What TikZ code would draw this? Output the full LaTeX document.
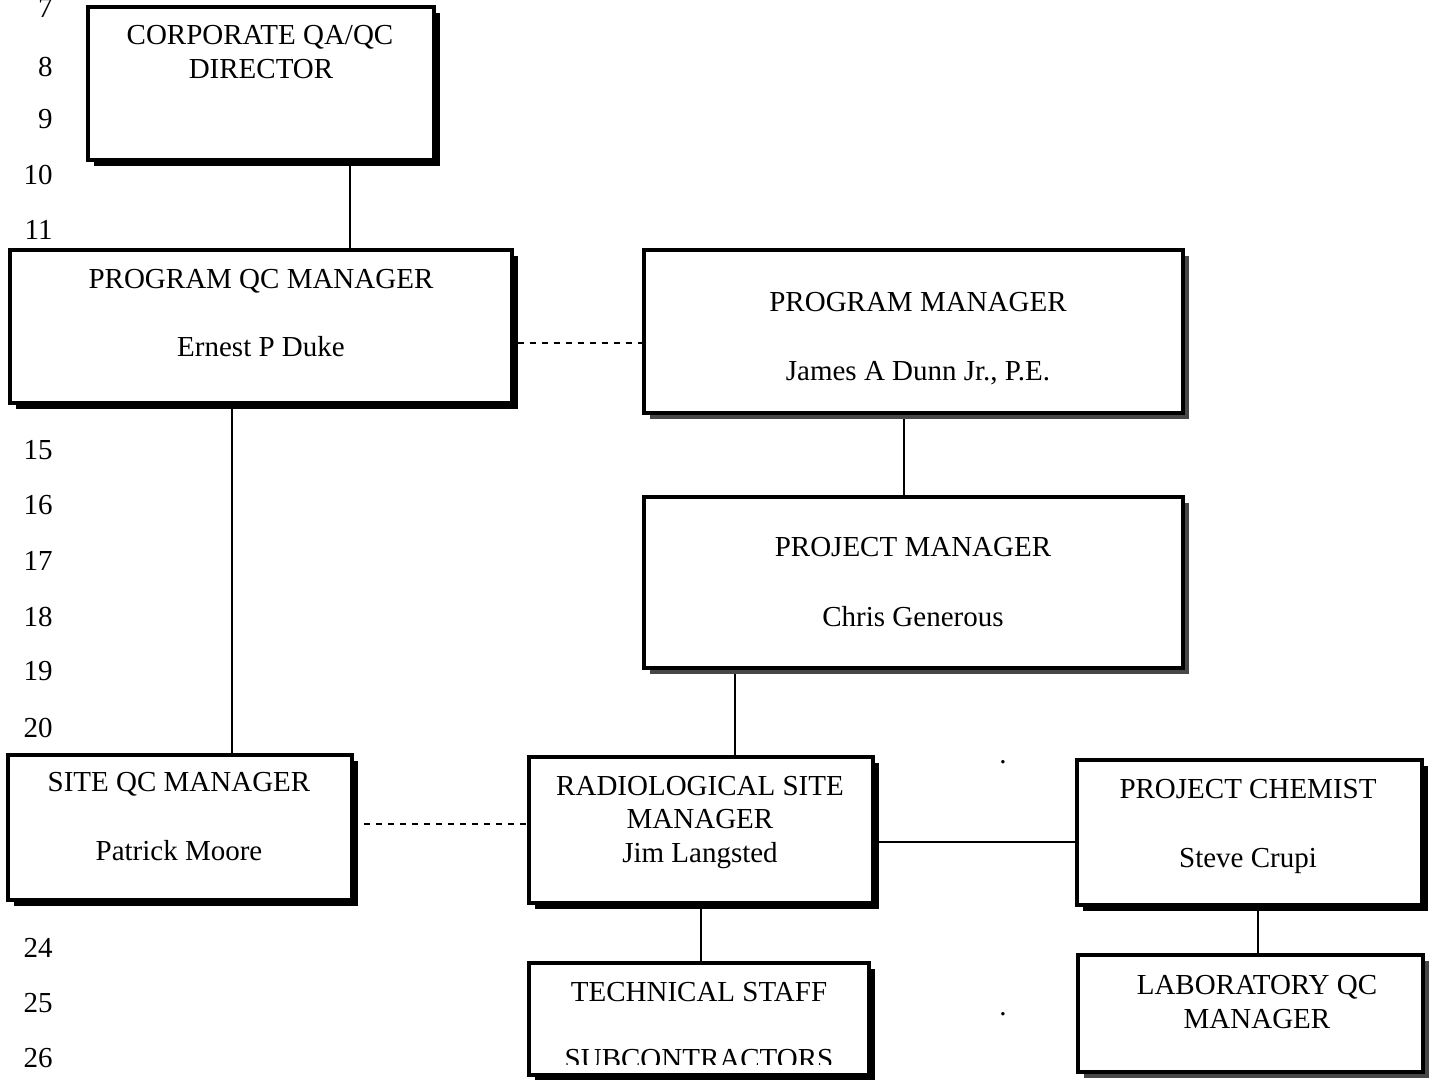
\documentclass[tikz,border=0pt]{standalone}
\usepackage{fontspec}
\setmainfont{Liberation Serif}
\usetikzlibrary{shadows,backgrounds}
\begin{document}
\begin{tikzpicture}[x=0.5pt,y=-0.5pt,
  font=\fontsize{14.5}{17}\selectfont,
  orgbox/.style={draw=black, fill=white, line width=1.75pt, rectangle, inner sep=0pt,
    general shadow={fill=black, shadow xshift=3.2pt, shadow yshift=-3.2pt}},
  greybox/.style={draw=black, fill=white, line width=1.75pt, rectangle, inner sep=0pt,
    general shadow={fill=black!72, shadow xshift=3.2pt, shadow yshift=-3.2pt}},
  txt/.style={anchor=base, inner sep=0pt},
  num/.style={anchor=base east, inner sep=0pt},
  link/.style={line width=0.8pt},
  dlink/.style={line width=0.8pt, dash pattern=on 3pt off 3pt}]
\useasboundingbox (0,0) rectangle (1436,1080);

% line numbers
\node[num] (n7)  at (53,18) {7};
\node[num] (n8)  at (53,77) {8};
\node[num] (n9)  at (53,129) {9};
\node[num] (n10) at (53,185) {10};
\node[num] (n11) at (53,240) {11};
\node[num] (n15) at (53,460) {15};
\node[num] (n16) at (53,515) {16};
\node[num] (n17) at (53,571) {17};
\node[num] (n18) at (53,626) {18};
\node[num] (n19) at (53,681) {19};
\node[num] (n20) at (53,737) {20};
\node[num] (n24) at (53,957) {24};
\node[num] (n25) at (53,1012) {25};
\node[num] (n26) at (53,1067) {26};

% boxes
\node[orgbox, minimum width=173pt, minimum height=76.5pt] (corp) at (261,83.5) {};
\node[orgbox, minimum width=251pt, minimum height=76.5pt] (pqc) at (261,326.5) {};
\node[greybox, minimum width=269.5pt, minimum height=81.5pt] (pm) at (913.5,331.5) {};
\node[greybox, minimum width=269.5pt, minimum height=85.5pt] (proj) at (913.5,582.5) {};
\node[orgbox, minimum width=172pt, minimum height=72.5pt] (site) at (180,827.5) {};
\node[orgbox, minimum width=172pt, minimum height=73pt] (rad) at (701,830) {};
\node[orgbox, minimum width=172.5pt, minimum height=72.5pt] (chem) at (1249.5,832.5) {};
\node[greybox, minimum width=172.5pt, minimum height=58.5pt] (lab) at (1250.5,1013.5) {};
\node[orgbox, minimum width=170pt, minimum height=56pt] (tech) at (699,1019) {};

% texts
\node[txt] (corpT1) at (260,45) {CORPORATE QA/QC};
\node[txt] (corpT2) at (261,79) {DIRECTOR};
\node[txt] (pqcT1) at (261,289) {PROGRAM QC MANAGER};
\node[txt] (pqcT2) at (261,357) {Ernest P Duke};
\node[txt] (pmT1) at (918,312) {PROGRAM MANAGER};
\node[txt] (pmT2) at (918,381) {James A Dunn Jr., P.E.};
\node[txt] (projT1) at (913,557) {PROJECT MANAGER};
\node[txt] (projT2) at (913,626) {Chris Generous};
\node[txt] (siteT1) at (179,791) {SITE QC MANAGER};
\node[txt] (siteT2) at (179,860) {Patrick Moore};
\node[txt] (radT1) at (700,795) {RADIOLOGICAL SITE};
\node[txt] (radT2) at (700,828) {MANAGER};
\node[txt] (radT3) at (700,862) {Jim Langsted};
\node[txt] (chemT1) at (1248,798) {PROJECT CHEMIST};
\node[txt] (chemT2) at (1248,867) {Steve Crupi};
\node[txt] (labT1) at (1257,994) {LABORATORY QC};
\node[txt] (labT2) at (1257,1028) {MANAGER};
\node[txt] (techT1) at (699,1001) {TECHNICAL STAFF};
\begin{scope}
  \clip (535,1030) rectangle (865,1064);
  \node[txt] (techT2) at (699,1068) {SUBCONTRACTORS};
\end{scope}
\node[txt] (dot1) at (1003,763) {.};
\node[txt] (dot2) at (1003,1015) {.};

% connectors
\begin{scope}[on background layer]
\draw[link] ([xshift=44.5pt]corp.south) -- ([xshift=44.5pt]corp.south |- pqc.north);
\draw[link] ([xshift=-14.5pt]pqc.south) -- ([xshift=-14.5pt]pqc.south |- site.north);
\draw[link] ([xshift=-4.75pt]pm.south) -- ([xshift=-4.75pt]pm.south |- proj.north);
\draw[link] ([xshift=17pt]rad.north) -- ([xshift=17pt]rad.north |- proj.south);
\draw[link] (rad.south) -- (rad.south |- tech.north);
\draw[link] ([xshift=4.25pt]chem.south) -- ([xshift=4.25pt]chem.south |- lab.north);
\draw[link] ([yshift=-6pt]rad.east) -- ([yshift=-6pt]rad.east -| chem.west);
\end{scope}
\draw[dlink] ([xshift=2pt,yshift=-8.25pt]pqc.east) -- ([yshift=-8.25pt]pqc.east -| pm.west);
\draw[dlink] ([xshift=5pt,yshift=1.75pt]site.east) -- ([yshift=1.75pt]site.east -| rad.west);
\end{tikzpicture}
\end{document}
